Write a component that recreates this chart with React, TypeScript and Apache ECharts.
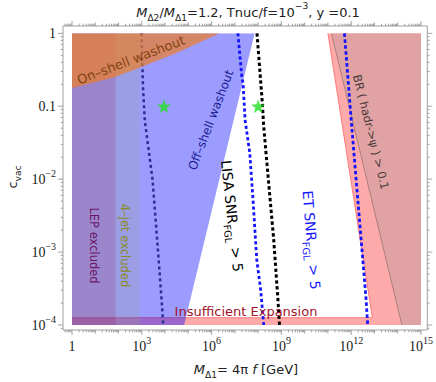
import React, { useEffect, useRef } from 'react';
import * as echarts from 'echarts';

const W = 436;
const H = 382;

// axis ranges in log10 space
const X_RANGE = [0, 15];
const Y_RANGE = [-4, 0];
const X_LABEL_STEP = 3;

// excluded regions (log10 M, log10 c_vac)
const LEP_X = [0, 1.875];
const JET_X = [1.875, 2.9];
const OFFSHELL_EDGE = [[7.85, 0], [4.82, -4]];
const ONSHELL_EDGE = [[0, -0.75], [1.85, -0.6], [2.92, -0.47], [4.49, -0.27], [6.35, 0]];
const INSUFF_TOP = -3.9;
const INSUFF_EDGE = [[11.0, 0], [12.91, -3.9]];
const BR_EDGE = [[11.15, 0], [14.18, -4]];

// curves
const NAVY_CURVE = [[2.99, 0], [3.05, -0.74], [3.13, -1.2], [3.46, -2], [3.7, -3], [3.86, -3.7], [3.92, -4]];
const ET_MID = [[7.13, 0], [7.3, -0.6], [7.35, -0.68], [7.44, -1.19], [7.64, -1.64], [7.78, -2.28], [7.94, -3.1], [8.11, -3.52], [8.21, -3.89], [8.24, -4]];
const LISA = [[7.95, 0], [8.18, -0.955], [8.24, -1.28], [8.48, -2.15], [8.67, -2.83], [8.85, -3.65], [8.92, -4]];
const ET_HIGH = [[11.71, 0], [12.0, -1.19], [12.5, -3.11], [12.64, -3.65], [12.71, -4]];
const STARS = [[3.95, -1], [8.0, -1]];

const FRAME_PAD = { left: 9, right: 6.3, top: 7.3, bottom: 5 };
const SANS = 'DejaVu Sans';
const SERIF = 'Liberation Serif';
const STAR_PATH = 'path://M0,-10 L2.35,-3.24 9.51,-3.09 3.8,1.24 5.88,8.09 0,4 -5.88,8.09 -3.8,1.24 -9.51,-3.09 -2.35,-3.24 Z';

function region(id: string, pts: number[][], fill: string, z: number, edge?: number[][], edgeColor?: string) {
  return {
    type: 'custom',
    id,
    z,
    silent: true,
    clip: true,
    data: [[0, 0]],
    renderItem: (_p: any, api: any) => {
      const children: any[] = [
        { type: 'polygon', shape: { points: pts.map((p) => api.coord(p)) }, style: { fill } },
      ];
      if (edge) {
        children.push({
          type: 'polyline',
          shape: { points: edge.map((p) => api.coord(p)) },
          style: { fill: 'none', stroke: edgeColor, lineWidth: 0.9 },
        });
      }
      return { type: 'group', children };
    },
  };
}

function curve(id: string, data: number[][], color: string, width: number, dash: number[], z: number) {
  return {
    type: 'line',
    id,
    z,
    silent: true,
    data,
    showSymbol: false,
    symbol: 'none',
    lineStyle: { color, width, type: dash },
  };
}

function ticksSeries() {
  return {
    type: 'custom',
    id: 'frame',
    z: 20,
    silent: true,
    clip: false,
    data: [[0, 0]],
    renderItem: (_p: any, api: any) => {
      const [x0, y0] = api.coord([X_RANGE[0], Y_RANGE[0]]);
      const [x1, y1] = api.coord([X_RANGE[1], Y_RANGE[1]]);
      const L = x0 - FRAME_PAD.left;
      const R = x1 + FRAME_PAD.right;
      const T = y1 - FRAME_PAD.top;
      const B = y0 + FRAME_PAD.bottom;
      const col = '#8c8c8c';
      const children: any[] = [
        { type: 'rect', shape: { x: L, y: T, width: R - L, height: B - T }, style: { fill: 'none', stroke: '#a0a0a0', lineWidth: 1 } },
      ];
      const ln = (ax: number, ay: number, bx: number, by: number) => ({
        type: 'line',
        shape: { x1: ax, y1: ay, x2: bx, y2: by },
        style: { stroke: col, lineWidth: 0.8 },
      });
      for (let d = -1; d <= 16; d++) {
        for (let k = 1; k <= 9; k++) {
          const v = d + Math.log10(k);
          const px = api.coord([v, Y_RANGE[0]])[0];
          if (px < L || px > R) continue;
          const len = k === 1 ? (d % X_LABEL_STEP === 0 ? 5 : 3.5) : 2.3;
          children.push(ln(px, B, px, B + len));
          children.push(ln(px, T, px, T - len));
        }
      }
      for (let d = -5; d <= 1; d++) {
        for (let k = 1; k <= 9; k++) {
          const v = d + Math.log10(k);
          const py = api.coord([X_RANGE[0], v])[1];
          if (py < T || py > B) continue;
          const len = k === 1 ? 5 : 2.3;
          children.push(ln(L, py, L - len, py));
          children.push(ln(R, py, R + len, py));
        }
      }
      return { type: 'group', children };
    },
  };
}

const deg = (a: number) => (a * Math.PI) / 180;

function label(x: number, y: number, text: string, size: number, color: string, rot = 0, rich: any = {}) {
  return {
    type: 'text',
    x,
    y,
    rotation: deg(rot),
    z: 50,
    silent: true,
    style: {
      text,
      fontFamily: SANS,
      fontSize: size,
      fill: color,
      align: 'center',
      verticalAlign: 'middle',
      lineHeight: size + 8,
      rich,
    },
  };
}

const subRich = (size: number, color: string) => ({
  sub: { fontFamily: SANS, fontSize: size * 0.7, fill: color, verticalAlign: 'bottom', lineHeight: size * 0.7 + 2 },
  sup: { fontFamily: SANS, fontSize: size * 0.7, fill: color, verticalAlign: 'top', lineHeight: size * 0.7 + 2 },
  i: { fontFamily: SANS, fontSize: size, fill: color, fontStyle: 'italic', lineHeight: size + 8 },
});

function buildOption() {
  const [xa, xb] = X_RANGE;
  const [ya, yb] = Y_RANGE;
  const pinkPoly = [[xa, ya], [xb, ya], [xb, yb], INSUFF_EDGE[0], INSUFF_EDGE[1], [xa, INSUFF_TOP]];
  const pinkEdge = [INSUFF_EDGE[0], INSUFF_EDGE[1], [xa, INSUFF_TOP]];
  const brPoly = [BR_EDGE[0], [xb, yb], [xb, ya], BR_EDGE[1]];
  const bluePoly = [[xa, yb], OFFSHELL_EDGE[0], OFFSHELL_EDGE[1], [xa, ya]];
  const lepPoly = [[LEP_X[0], ya], [LEP_X[1], ya], [LEP_X[1], yb], [LEP_X[0], yb]];
  const jetPoly = [[JET_X[0], ya], [JET_X[1], ya], [JET_X[1], yb], [JET_X[0], yb]];
  const orangePoly = [[xa, yb], ...ONSHELL_EDGE.slice().reverse(), [xa, yb]];

  const tickRich = {
    n: { fontFamily: SERIF, fontSize: 14, lineHeight: 22, color: '#222' },
    s: { fontFamily: SERIF, fontSize: 10, lineHeight: 10, verticalAlign: 'top', color: '#222' },
  };

  return {
    animation: false,
    backgroundColor: '#ffffff',
    grid: { left: 72, top: 33.3, right: W - 421.7, bottom: H - 325 },
    xAxis: {
      type: 'value',
      min: xa,
      max: xb,
      interval: X_LABEL_STEP,
      offset: FRAME_PAD.bottom,
      axisLine: { show: false },
      axisTick: { show: false },
      splitLine: { show: false },
      axisLabel: {
        margin: 5,
        formatter: (v: number) => (v === 0 ? '{n|1}' : `{n|10}{s|${v}}`),
        rich: tickRich,
      },
    },
    yAxis: {
      type: 'value',
      min: ya,
      max: yb,
      interval: 1,
      offset: FRAME_PAD.left,
      axisLine: { show: false },
      axisTick: { show: false },
      splitLine: { show: false },
      axisLabel: {
        margin: 7,
        formatter: (v: number) => (v === 0 ? '{n|1}' : v === -1 ? '{n|0.1}' : `{n|10}{s|−${-v}}`),
        rich: tickRich,
      },
    },
    series: [
      region('insufficient', pinkPoly, '#ffaaaa', 1, pinkEdge, '#ff7070'),
      region('br', brPoly, '#e0a2a3', 2, [BR_EDGE[0], BR_EDGE[1]], '#a07c7c'),
      region('offshell', bluePoly, 'rgba(0,0,255,0.39)', 3),
      region('lep', lepPoly, 'rgba(152,80,83,0.3)', 4),
      region('jet', jetPoly, 'rgba(155,172,110,0.2)', 5),
      curve('navy', NAVY_CURVE, '#2c2c96', 2.5, [3, 3], 6),
      region('onshell', orangePoly, 'rgba(236,126,44,0.72)', 7),
      curve('etmid', ET_MID, '#1414ff', 2.8, [3.2, 2.6], 8),
      curve('lisa', LISA, '#000000', 3, [3.3, 2.6], 8),
      curve('ethigh', ET_HIGH, '#1414ff', 2.8, [3.5, 2.5], 8),
      {
        type: 'scatter',
        id: 'stars',
        z: 9,
        silent: true,
        data: STARS,
        symbol: STAR_PATH,
        symbolSize: 14,
        itemStyle: { color: '#22e022' },
      },
      ticksSeries(),
    ],
    graphic: [
      label(248, 12, '{i|M}{sub|Δ2}/{i|M}{sub|Δ1}=1.2, Tnuc/f=10{sup|−3}, y =0.1', 13, '#222', 0, subRich(13, '#222')),
      label(246, 369, '{i|M}{sub|Δ1}= 4π {i|f} [GeV]', 13, '#222', 0, subRich(13, '#222')),
      label(12, 177, 'c{sub|vac}', 13, '#222', 90, subRich(13, '#222')),
      label(131, 60, 'On–shell washout', 13, '#82440f', 21),
      label(211, 120, 'Off–shell washout', 12, '#1e1e96', 69),
      label(94, 245.5, 'LEP excluded', 11.5, '#6a1468', -90),
      label(125, 245.5, '4–jet excluded', 11.5, '#8c8a1e', -90),
      label(232, 216, 'LISA SNR{sub|FGL} > 5', 14, '#000', -83.8, subRich(14, '#000')),
      label(311.5, 240, 'ET SNR{sub|FGL} > 5', 14, '#1a1aff', -85.4, subRich(14, '#1a1aff')),
      label(371, 132, 'BR ( hadr->ψ ) > 0.1', 11.5, '#4a3a3a', -76),
      label(246, 311, 'Insufficient Expansion', 13, '#a0142a', 0),
    ],
  };
}

export default function App() {
  const ref = useRef<HTMLDivElement>(null);
  useEffect(() => {
    if (!ref.current) return;
    const chart = echarts.init(ref.current, null, { renderer: 'svg' });
    chart.setOption(buildOption() as any);
    return () => chart.dispose();
  }, []);
  return (
    <div
      ref={ref}
      style={{ position: 'fixed', left: 0, top: 0, width: W, height: H, background: '#fff' }}
    />
  );
}
